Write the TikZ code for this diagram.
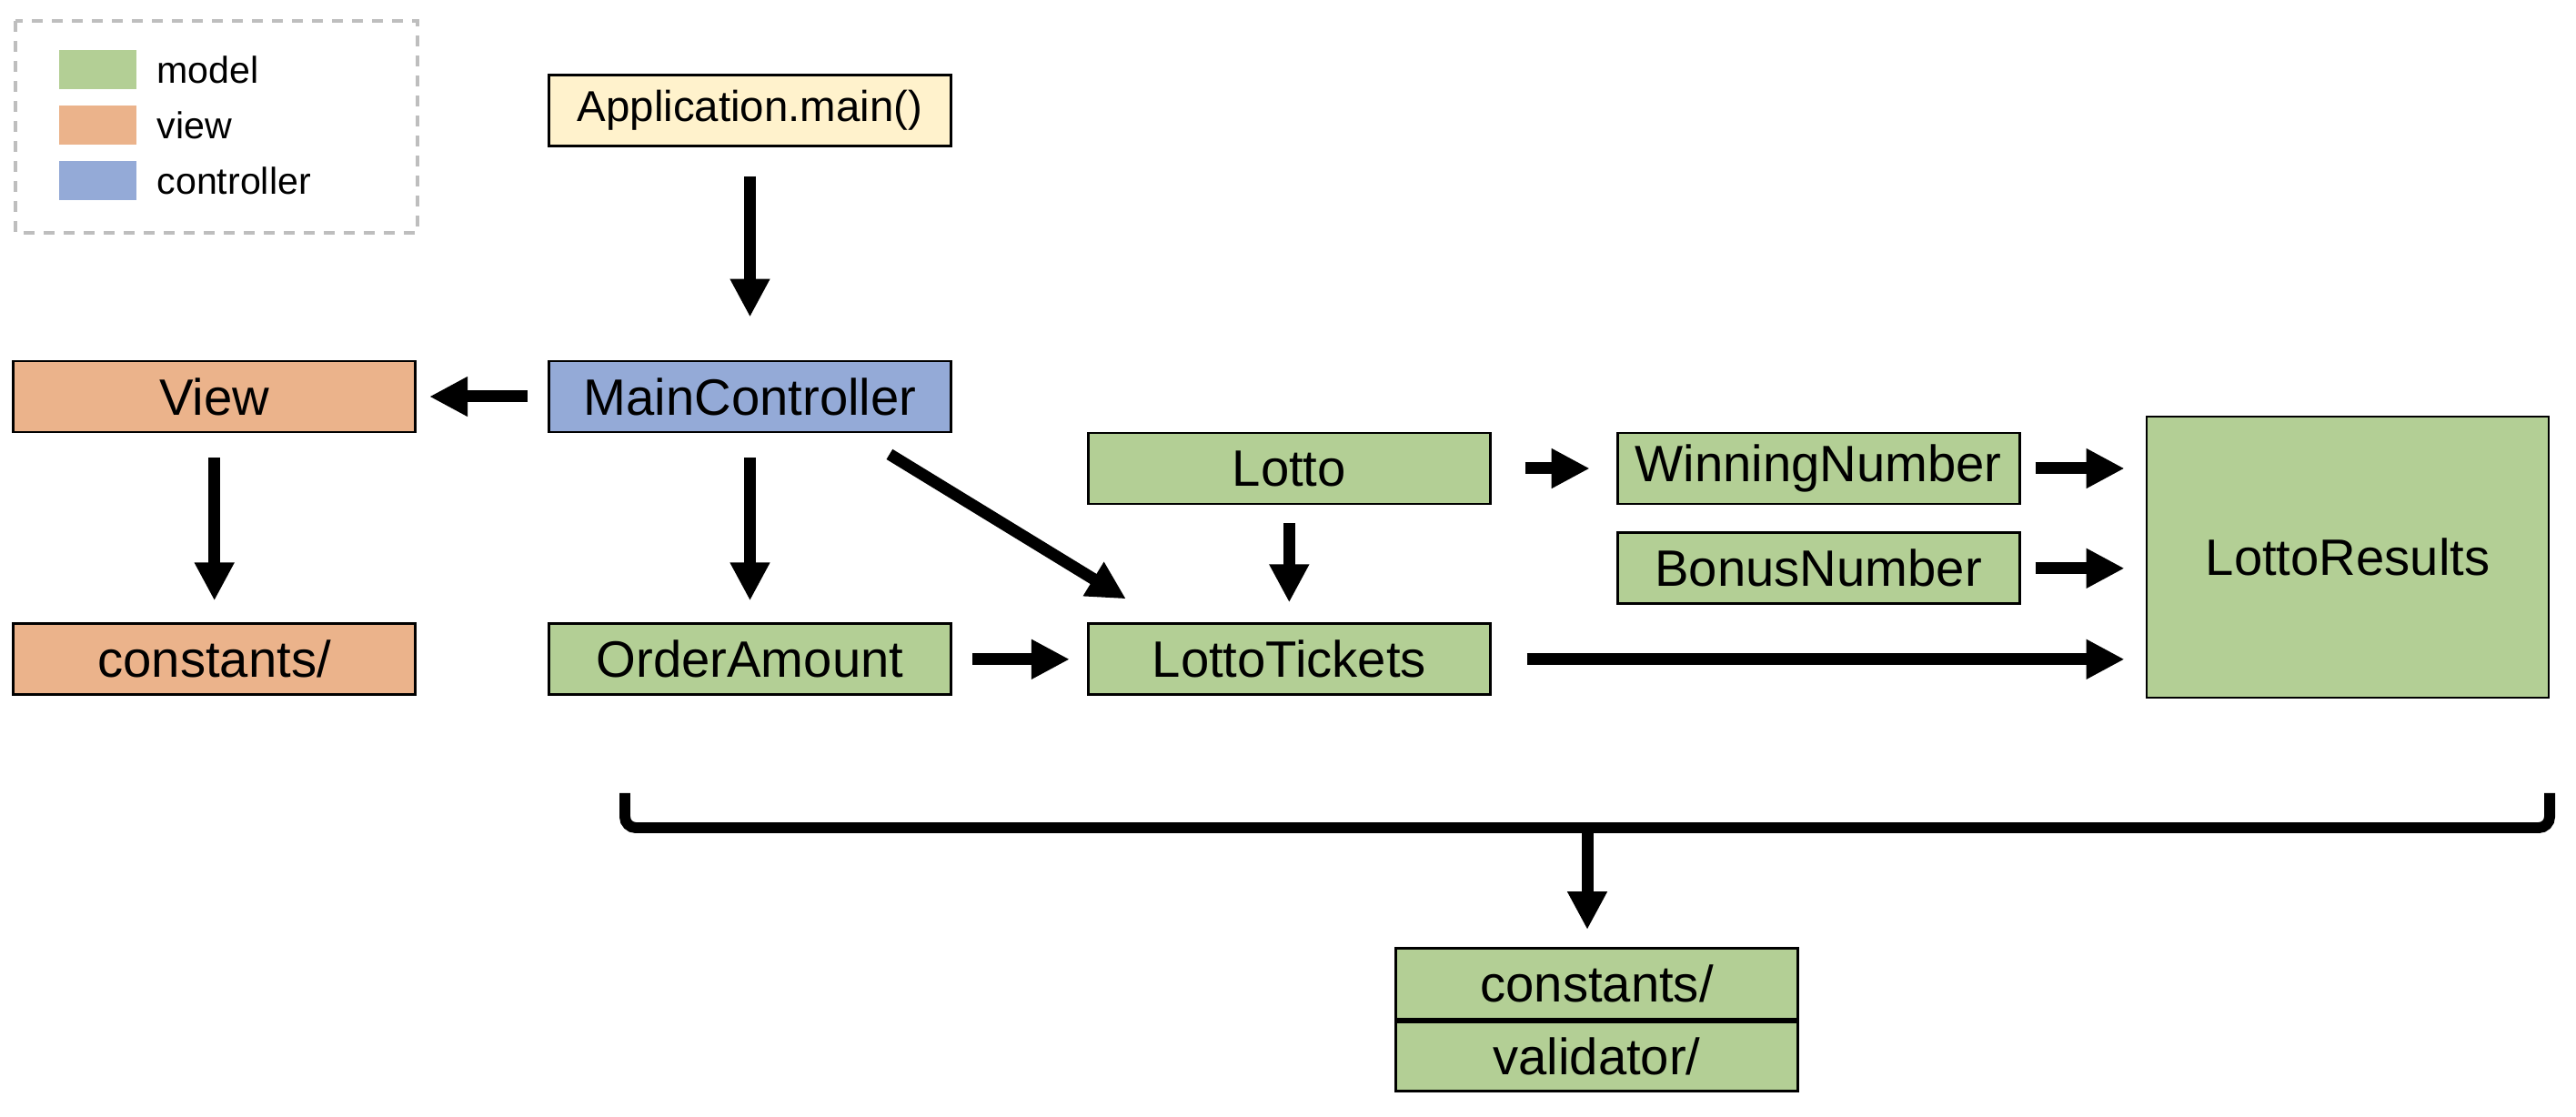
\documentclass[tikz,border=0pt]{standalone}
\usepackage{fontspec}
\setmainfont{Liberation Sans}
\usepackage{xcolor}
\usepackage{tikz}
\usetikzlibrary{arrows.meta, positioning}

\definecolor{modelgreen}{RGB}{179,207,149}
\definecolor{vieworange}{RGB}{235,179,139}
\definecolor{ctrlblue}{RGB}{148,170,215}
\definecolor{appyellow}{RGB}{255,242,204}
\definecolor{legendgray}{RGB}{190,190,190}

\begin{document}
\begin{tikzpicture}[>={Triangle[length=4.2mm, width=4.1mm]},
    box/.style={draw, line width=0.8pt, rectangle, minimum width=4.42cm, minimum height=0.78cm, inner sep=0pt, font=\fontsize{16}{19}\selectfont},
    model/.style={box, fill=modelgreen},
    viewbox/.style={box, fill=vieworange},
    ctrl/.style={box, fill=ctrlblue},
    appbox/.style={box, fill=appyellow, font=\fontsize{13.5}{16}\selectfont},
    conn/.style={->, line width=3.7pt, shorten <=0.22cm, shorten >=0.2cm},
    swatch/.style={rectangle, minimum width=0.85cm, minimum height=0.43cm, inner sep=0pt},
    legendtext/.style={anchor=west, inner sep=0pt, font=\fontsize{11.7}{14}\selectfont}]

    \useasboundingbox (0,0) rectangle (28.32,-12.28);

    % Legend
    \draw[legendgray, line width=1pt, dash pattern=on 0.12cm off 0.1cm] (0.17,-0.23) rectangle (4.59,-2.56);
    \node (lgmodel) [swatch, fill=modelgreen] at (1.075,-0.765) {};
    \node (lgview) [swatch, fill=vieworange] at (1.075,-1.375) {};
    \node (lgctrl) [swatch, fill=ctrlblue] at (1.075,-1.985) {};
    \node (lgmodeltxt) [legendtext] at (1.72,-0.765) {model};
    \node (lgviewtxt) [legendtext] at (1.72,-1.375) {view};
    \node (lgctrltxt) [legendtext] at (1.72,-1.985) {controller};

    % Nodes
    \node (main) [ctrl] at (8.245,-4.36) {MainController};
    \node (app) [appbox, above=2.34cm of main] {Application.main()};
    \node (view) [viewbox, left=1.44cm of main] {View};
    \node (viewconst) [viewbox, below=2.08cm of view] {constants/};
    \node (order) [model, below=2.08cm of main] {OrderAmount};
    \node (tickets) [model, right=1.48cm of order] {LottoTickets};
    \node (lotto) [model, above=1.29cm of tickets] {Lotto};
    \node (winning) [model, right=1.37cm of lotto] {WinningNumber};
    \node (bonus) [model, below=0.29cm of winning] {BonusNumber};
    \node (results) [model, minimum height=3.09cm] at (25.81,-6.125) {LottoResults};
    \node (mconst) [model] at (17.555,-10.815) {constants/};
    \node (valid) [model, minimum height=0.76cm, below=0cm of mconst] {validator/};

    % Links
    \draw[conn, shorten <=0.32cm, shorten >=0.47cm] (app) -- (main);
    \draw[conn, shorten >=0.14cm] (main) -- (view);
    \draw[conn, shorten <=0.27cm, shorten >=0.24cm] (view) -- (viewconst);
    \draw[conn, shorten <=0.27cm, shorten >=0.24cm] (main) -- (order);
    \draw[conn, shorten <=0pt, shorten >=0pt] ([xshift=-0.69cm, yshift=-0.23cm]main.south east) -- ([xshift=0.43cm, yshift=0.26cm]tickets.north west);
    \draw[conn, shorten >=0.19cm] (order) -- (tickets);
    \draw[conn, shorten <=0.2cm, shorten >=0.22cm] (lotto) -- (tickets);
    \draw[conn, shorten <=0.37cm, shorten >=0.29cm] (lotto) -- (winning);
    \draw[conn, shorten <=0.16cm, shorten >=0.23cm] (winning) -- (winning -| results.west);
    \draw[conn, shorten <=0.16cm, shorten >=0.23cm] (bonus) -- (bonus -| results.west);
    \draw[conn, shorten <=0.39cm, shorten >=0.23cm] (tickets) -- (tickets -| results.west);

    % Brace
    \coordinate (bmid) at (17.45,-9.10);
    \draw[line width=3.4pt, rounded corners=0.12cm] (6.87,-8.72) -- (6.87,-9.10) -- (28.03,-9.10) -- (28.03,-8.72);
    \draw[conn, shorten <=0pt, shorten >=0.19cm] (bmid) -- (bmid |- mconst.north);
\end{tikzpicture}
\end{document}
